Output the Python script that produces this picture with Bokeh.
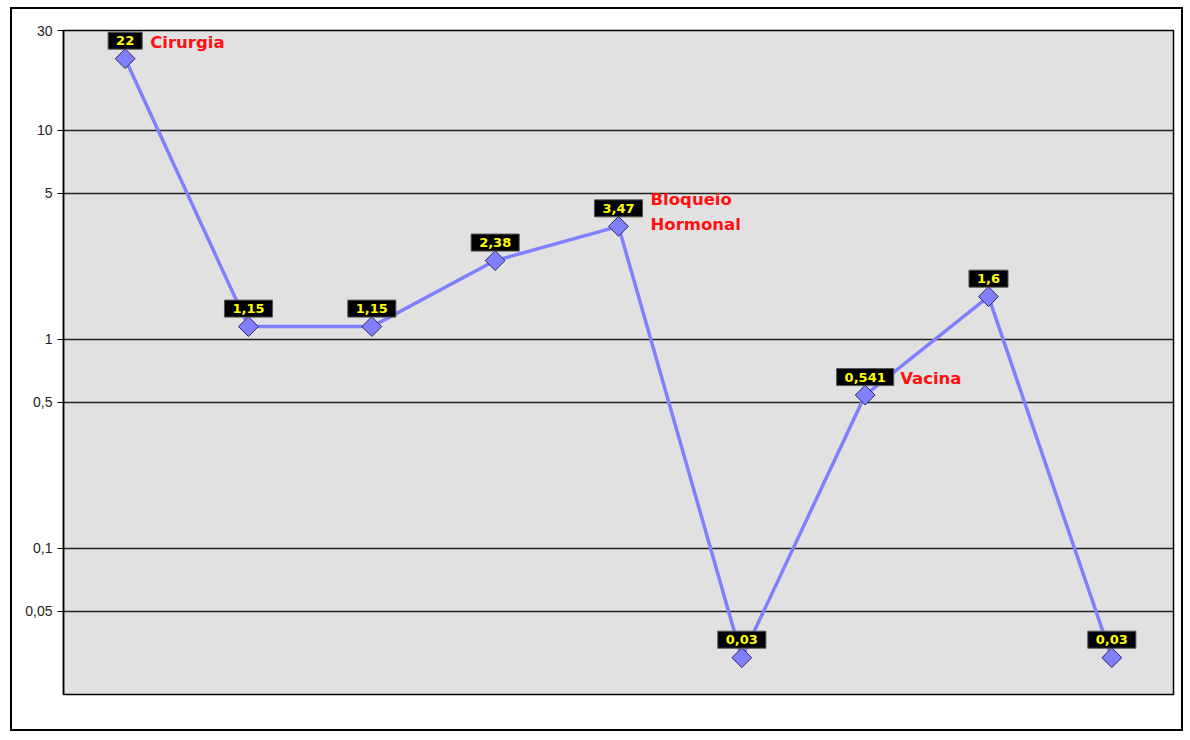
from bokeh.plotting import figure
from bokeh.models import ColumnDataSource, LabelSet, Range1d, FixedTicker
from bokeh.core.properties import value
from bokeh.embed import file_html
from bokeh.resources import INLINE
import math

# ---- data ----
positions = [1, 2, 3, 4, 5, 6, 7, 8, 9]
values = [22, 1.15, 1.15, 2.38, 3.47, 0.03, 0.541, 1.6, 0.03]
value_labels = [("%g" % v).replace(".", ",") for v in values]
annot_index = [0, 4, 6]
annot_text = ["Cirurgia", "Bloqueio\nHormonal", "Vacina"]
y_ticks = [0.05, 0.1, 0.5, 1, 5, 10, 30]
y_tick_labels = ["0,05", "0,1", "0,5", "1", "5", "10", "30"]

# ---- styles ----
annot_dx = [25, 32, 35]
annot_dy = [16, 14, 17]

src = ColumnDataSource(dict(x=positions, y=values, lab=value_labels))
asrc = ColumnDataSource(dict(
    x=[positions[i] for i in annot_index],
    y=[values[i] for i in annot_index],
    t=annot_text, dx=annot_dx, dy=annot_dy))

p = figure(width=1173, height=724, y_axis_type="log",
           x_range=Range1d(0.5, 9.5), y_range=Range1d(0.02, 30),
           output_backend="svg", toolbar_location=None,
           min_border_left=51, min_border_right=12,
           min_border_top=21, min_border_bottom=39)
p.styles = {"border": "2px solid black", "margin-left": "10px", "margin-top": "7px"}

p.background_fill_color = "#e1e1e1"
p.border_fill_color = "white"
p.outline_line_color = "black"
p.outline_line_width = 1.5

p.xaxis.visible = False
p.xgrid.visible = False

ax = p.yaxis[0]
ax.ticker = FixedTicker(ticks=y_ticks)
ax.major_label_overrides = {t: l for t, l in zip(y_ticks, y_tick_labels)}
ax.minor_tick_line_color = None
ax.major_tick_in = 0
ax.major_tick_out = 6
ax.major_tick_line_color = "black"
ax.axis_line_color = "black"
ax.axis_line_width = 1.5
ax.major_label_text_font = "Liberation Sans"
ax.major_label_text_font_size = "14px"
ax.major_label_text_color = "#222222"
ax.major_label_standoff = 5

p.ygrid.grid_line_color = "#222222"
p.ygrid.grid_line_width = 1.5
p.ygrid.minor_grid_line_color = None

p.line("x", "y", source=src, line_color="#8080ff", line_width=3.5)
p.scatter("x", "y", source=src, marker="square", size=14, angle=math.pi / 4,
          fill_color="#8080ff", line_color="#2a2a60", line_width=1)

p.text("x", "y", text="lab", source=src,
       y_offset=-18, text_align="center", text_baseline="middle",
       text_color="#ffff00", text_font=value("DejaVu Sans"),
       text_font_style="bold", text_font_size="13px",
       background_fill_color="black", border_line_color="#555555",
       padding=dict(left=8, right=8, top=4, bottom=4))

annots = LabelSet(x="x", y="y", text="t", source=asrc,
                  x_offset="dx", y_offset="dy", text_align="left",
                  text_baseline="middle", text_color="#ff1010",
                  text_font=value("DejaVu Sans"), text_font_style="bold",
                  text_font_size="16.5px", text_line_height=1.3)
p.add_layout(annots)

open("out.html", "w").write(file_html(p, INLINE))
